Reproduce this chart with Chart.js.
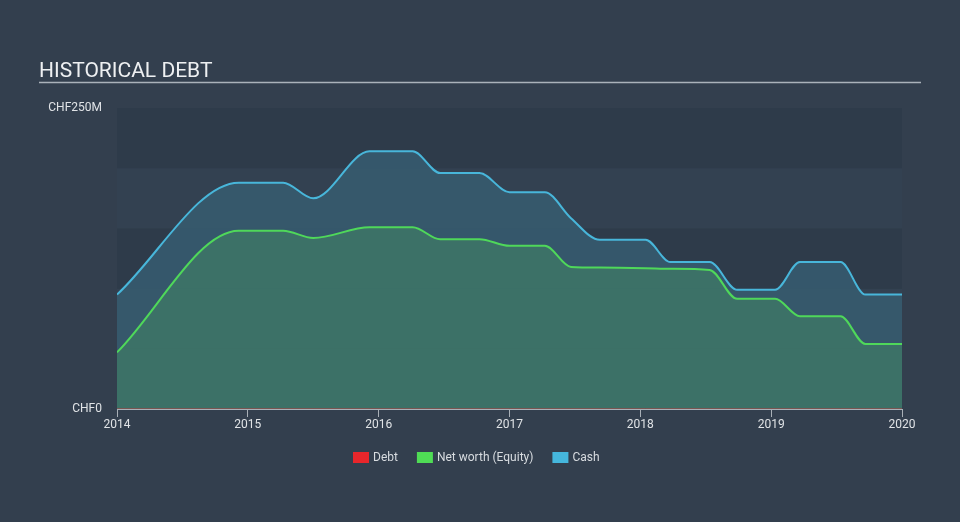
<!DOCTYPE html>
<html>
<head>
<meta charset="utf-8">
<script src="https://cdn.jsdelivr.net/npm/chart.js@4/dist/chart.umd.min.js"></script>
<style>
  html, body { margin: 0; padding: 0; background: #333f4e; }
  #wrap { width: 960px; height: 522px; position: relative; }
</style>
</head>
<body>
<div id="wrap"><canvas id="chart" width="960" height="522"></canvas></div>
<script>
// dates as decimal years, values in CHF millions
var dates  = [2014.0, 2014.93, 2015.27, 2015.5, 2015.93, 2016.26, 2016.47, 2016.77, 2017.0, 2017.27, 2017.47, 2017.69, 2018.04, 2018.23, 2018.53, 2018.74, 2019.03, 2019.22, 2019.53, 2019.72, 2020.0];
var debt   = [0, 0, 0, 0, 0, 0, 0, 0, 0, 0, 0, 0, 0, 0, 0, 0, 0, 0, 0, 0, 0];
var equity = [47, 148, 148, 142, 151, 151, 141, 141, 135.5, 135.5, 118, 117.5, 117, 116.5, 115.5, 91.5, 91.5, 77, 77, 54, 54];
var cash   = [95, 188, 188, 175, 214, 214, 196, 196, 180, 180, 158.5, 140.5, 140.5, 122, 122, 99, 99, 122, 122, 95, 95];
var yTicks = [0, 250];
var legendItems = [
  { label: 'Debt', color: '#e8262b' },
  { label: 'Net worth (Equity)', color: '#4fdc55' },
  { label: 'Cash', color: '#45b7dd' }
];

function pts(vals) {
  return vals.map(function (v, i) { return { x: dates[i], y: v }; });
}

var decor = {
  id: 'decor',
  beforeDatasetsDraw: function (chart) {
    var ctx = chart.ctx, a = chart.chartArea, y = chart.scales.y;
    ctx.save();
    for (var v = 0; v < 250; v += 50) {
      var top = y.getPixelForValue(v + 50), bot = y.getPixelForValue(v);
      ctx.fillStyle = ((v / 50) % 2 === 0) ? '#2e3b4a' : '#334151';
      ctx.fillRect(a.left, top, a.right - a.left, bot - top);
    }
    ctx.restore();
  },
  afterDraw: function (chart) {
    var ctx = chart.ctx;
    ctx.save();
    ctx.fillStyle = '#eef0f2';
    ctx.font = '21px Roboto';
    ctx.textBaseline = 'alphabetic';
    ctx.fillText('HISTORICAL DEBT', 39, 77);
    ctx.strokeStyle = '#aab2ba';
    ctx.lineWidth = 1.5;
    ctx.beginPath();
    ctx.moveTo(39, 82.5);
    ctx.lineTo(921, 82.5);
    ctx.stroke();

    ctx.font = '12px Roboto';
    ctx.textBaseline = 'middle';
    var x = 353;
    legendItems.forEach(function (it) {
      ctx.fillStyle = it.color;
      ctx.fillRect(x, 452, 16, 11);
      ctx.fillStyle = '#d8dce0';
      ctx.fillText(it.label, x + 20, 458);
      x += 20 + ctx.measureText(it.label).width + 19;
    });
    ctx.restore();
  }
};

new Chart(document.getElementById('chart'), {
  type: 'line',
  data: {
    datasets: [
      { label: 'Debt', data: pts(debt), borderColor: 'rgba(232,38,43,0.7)', borderWidth: 1, fill: false, pointRadius: 0 },
      { label: 'Net worth (Equity)', data: pts(equity), borderColor: '#4fd85a', backgroundColor: 'rgba(61,116,104,0.95)', borderWidth: 2, fill: 'origin', pointRadius: 0 },
      { label: 'Cash', data: pts(cash), borderColor: '#48b6da', backgroundColor: 'rgba(54,90,110,0.92)', borderWidth: 2, fill: 1, pointRadius: 0 }
    ]
  },
  options: {
    responsive: false,
    animation: false,
    layout: { padding: { top: 108, right: 58, left: 0, bottom: 0 } },
    elements: { line: { cubicInterpolationMode: 'monotone' } },
    plugins: { legend: { display: false }, tooltip: { enabled: false } },
    scales: {
      x: {
        type: 'linear',
        min: 2014, max: 2020,
        afterFit: function (s) { s.height = 113; },
        ticks: { stepSize: 1, color: '#e0e3e6', font: { family: 'Roboto', size: 12 }, padding: 1,
                 callback: function (v) { return String(v); } },
        grid: { drawOnChartArea: false, tickLength: 8, color: '#a9b0b7' },
        border: { color: '#a9b0b7', width: 1 }
      },
      y: {
        min: 0, max: 250,
        afterFit: function (s) { s.width = 117; },
        afterBuildTicks: function (s) { s.ticks = yTicks.map(function (v) { return { value: v }; }); },
        ticks: { color: '#e0e3e6', font: { family: 'Roboto', size: 12 }, padding: 15,
                 callback: function (v) { return v === 0 ? 'CHF0' : 'CHF' + v + 'M'; } },
        grid: { display: false, drawTicks: false },
        border: { display: false }
      }
    }
  },
  plugins: [decor]
});
</script>
</body>
</html>
